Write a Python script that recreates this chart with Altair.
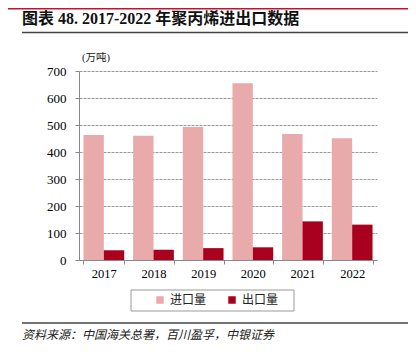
import altair as alt
import pandas as pd

years = ["2017", "2018", "2019", "2020", "2021", "2022"]
imports = [463, 460, 493, 655, 467, 451]
exports = [36, 38, 44, 47, 143, 131]
series = ["进口量", "出口量"]
colors = ["#E8AAAA", "#A8001E"]
y_ticks = [0, 100, 200, 300, 400, 500, 600, 700]

title_text = "图表 48. 2017-2022 年聚丙烯进出口数据"
unit_text = "(万吨)"
source_text = "资料来源：中国海关总署，百川盈孚，中银证券"

rows = []
for yr, imp, exp in zip(years, imports, exports):
    rows.append({"year": yr, "series": series[0], "value": imp})
    rows.append({"year": yr, "series": series[1], "value": exp})
df = pd.DataFrame(rows)

W, H = 298, 189
SERIF = "Liberation Serif, Noto Sans CJK SC"

bars = alt.Chart(df).mark_bar().encode(
    x=alt.X("year:N", sort=years, title=None,
            scale=alt.Scale(paddingInner=0.18, paddingOuter=0.09),
            axis=alt.Axis(labelAngle=0, tickBand="extent", labelFontSize=12.5, labelFont=SERIF,
                          labelColor="#000", labelPadding=3, tickSize=4, tickColor="#888",
                          domainColor="#888", grid=False)),
    xOffset=alt.XOffset("series:N", sort=series, scale=alt.Scale(domain=series, paddingInner=0)),
    y=alt.Y("value:Q", title=None, scale=alt.Scale(domain=[0, 700], nice=False),
            axis=alt.Axis(values=y_ticks, labelFontSize=13, labelFont=SERIF, labelColor="#000",
                          labelPadding=9, tickSize=4, tickColor="#888", domainColor="#888",
                          grid=True, gridColor="#9a9a9a", gridDash=[3, 1], gridWidth=1)),
    color=alt.Color("series:N", sort=series,
                    scale=alt.Scale(domain=series, range=colors),
                    legend=alt.Legend(title=None, orient="none", legendX=75, legendY=223,
                                      direction="horizontal", symbolType="square", symbolSize=56,
                                      symbolStrokeWidth=0,
                                      labelFontSize=12, labelFont=SERIF, labelColor="#222",
                                      columnPadding=19, labelOffset=4, padding=0)),
)

one = pd.DataFrame({"v": [0]})


def rule(x1, x2, y, color, width):
    return alt.Chart(one).mark_rule(color=color, strokeWidth=width).encode(
        x=alt.value(x1), x2=alt.value(x2), y=alt.value(y))


def text(s, x, y, **kw):
    return alt.Chart(one).mark_text(text=s, align="left", baseline="middle", **kw).encode(
        x=alt.value(x), y=alt.value(y))


top_red = rule(-71, 329, -62.5, "#C8102E", 2)
title = text(title_text, -57, -52, font=SERIF, fontSize=16, fontWeight="bold", color="#111")
title_rule = rule(-57, 329, -38.5, "#444", 1.5)
unit = text(unit_text, 3, -13, font=SERIF, fontSize=10.5, color="#222")
legend_box = alt.Chart(one).mark_rect(fill="white", stroke="#999", strokeWidth=1).encode(
    x=alt.value(52), x2=alt.value(215), y=alt.value(219), y2=alt.value(240))
source_rule = rule(-57, 329, 252, "#444", 1.5)
source = text(source_text, -57, 264, font=SERIF, fontSize=12, fontStyle="italic", color="#222")

chart = alt.layer(
    legend_box, bars, top_red, title, title_rule, unit, source_rule, source
).properties(
    width=W, height=H,
    autosize=alt.AutoSizeParams(type="none"),
    padding={"left": 71, "top": 63, "right": 31, "bottom": 92},
).configure_view(stroke=None)

chart.save("out.html", embed_options={"renderer": "svg", "actions": False})
